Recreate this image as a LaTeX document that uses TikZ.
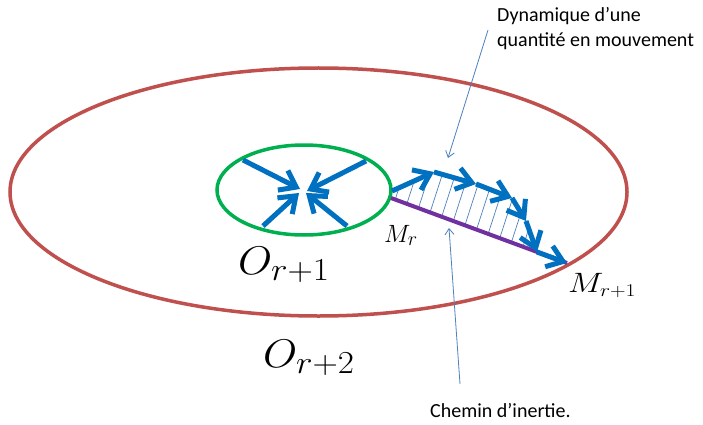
\RequirePackage{fix-cm}
\documentclass[tikz,border=0pt]{standalone}
\usepackage{graphicx}
\usepackage{fontspec}
\newfontfamily\cfont{Carlito}
\usetikzlibrary{shapes.geometric,arrows.meta}
\DeclareMathSizes{25}{25}{20}{15}
\DeclareMathSizes{28}{28}{18}{13}
\DeclareMathSizes{40}{40}{32}{24}
\definecolor{cred}{RGB}{192,80,77}
\definecolor{cgreen}{RGB}{0,176,80}
\definecolor{cblue}{RGB}{0,112,192}
\definecolor{cpurple}{RGB}{112,48,160}
\definecolor{clight}{RGB}{79,129,189}
\begin{document}
\begin{tikzpicture}[x=1pt,y=-1pt,
  orbit/.style={ellipse, draw, inner sep=0pt, outer sep=0pt},
  flow/.style={draw=cblue, line width=5pt, -{Straight Barb[length=15pt,width=22pt]}},
  hatch/.style={draw=clight, line width=0.7pt},
  callout/.style={draw=clight, line width=0.8pt, -{Straight Barb[length=6pt,width=9pt]}},
  lbl/.style={inner sep=0pt, anchor=base west, font=\cfont\fontsize{20}{24}\selectfont},
  mlbl/.style={inner sep=0pt, anchor=base west}]
\useasboundingbox (0,0) rectangle (703,425);
\fill[white] (0,0) rectangle (703,425);
% orbits
\node[orbit, draw=cred, line width=3.5pt, minimum width=617pt, minimum height=248pt] (outer) at (318.5,192) {};
\node[orbit, draw=cgreen, line width=3.5pt, minimum width=174pt, minimum height=90pt] (inner) at (304,190) {};
% inward arrows
\coordinate (a1) at (243,160); \coordinate (t1) at (300,189);
\coordinate (a2) at (366,161); \coordinate (t2) at (307,191);
\coordinate (a3) at (263,226); \coordinate (t3) at (299,193);
\coordinate (a4) at (347,226); \coordinate (t4) at (306,193);
\draw[flow] (a1) -- (t1);
\draw[flow] (a2) -- (t2);
\draw[flow] (a3) -- (t3);
\draw[flow] (a4) -- (t4);
% path points
\coordinate (p0) at (392,191);
\coordinate (p1) at (434,172);
\coordinate (p2) at (476,184);
\coordinate (p3) at (512,198);
\coordinate (p4) at (526,221);
\coordinate (p5) at (537,252);
\coordinate (p6) at (567,263);
\coordinate (ps) at (391,198);
% hatching
\begin{scope}
\clip (p0) -- (p1) -- (p2) -- (p3) -- (p4) -- (p5) -- (p6) -- (ps) -- cycle;
\foreach \x in {340,353,...,580} \draw[hatch] (\x,290) -- (\x+42,160);
\end{scope}
% inertia path
\draw[cpurple, line width=4pt] (ps) -- (p6);
% dynamic path
\draw[flow] (p0) -- (p1);
\draw[flow] (p1) -- (p2);
\draw[flow] (p2) -- (p3);
\draw[flow] (p3) -- (p4);
\draw[flow] (p4) -- (p5);
\draw[flow] (p5) -- (p6);
% callouts
\coordinate (d0) at (488,30); \coordinate (d1) at (448,158);
\coordinate (c0) at (460,384); \coordinate (c1) at (449,228);
\draw[callout] (d0) -- (d1);
\draw[callout] (c0) -- (c1);
\node[lbl] (dyn1) at (497,22) {Dynamique d’une};
\node[lbl] (dyn2) at (497,47) {quantité en mouvement};
\node[lbl] (chem) at (430,417) {Chemin d’inertie.};
% math labels
\node[mlbl] (mr) at (384,242) {\fontsize{25}{30}\selectfont$M_r$};
\node[mlbl] (mr1) at (568,292) {\scalebox{1.2}[1]{\fontsize{28}{32}\selectfont$M_{r+1}$}};
\node[mlbl] (or1) at (238,274) {\scalebox{1.1}[1]{\fontsize{40}{44}\selectfont$O_{r+1}$}};
\node[mlbl] (or2) at (263,367) {\scalebox{1.1}[1]{\fontsize{40}{44}\selectfont$O_{r+2}$}};
\end{tikzpicture}
\end{document}
